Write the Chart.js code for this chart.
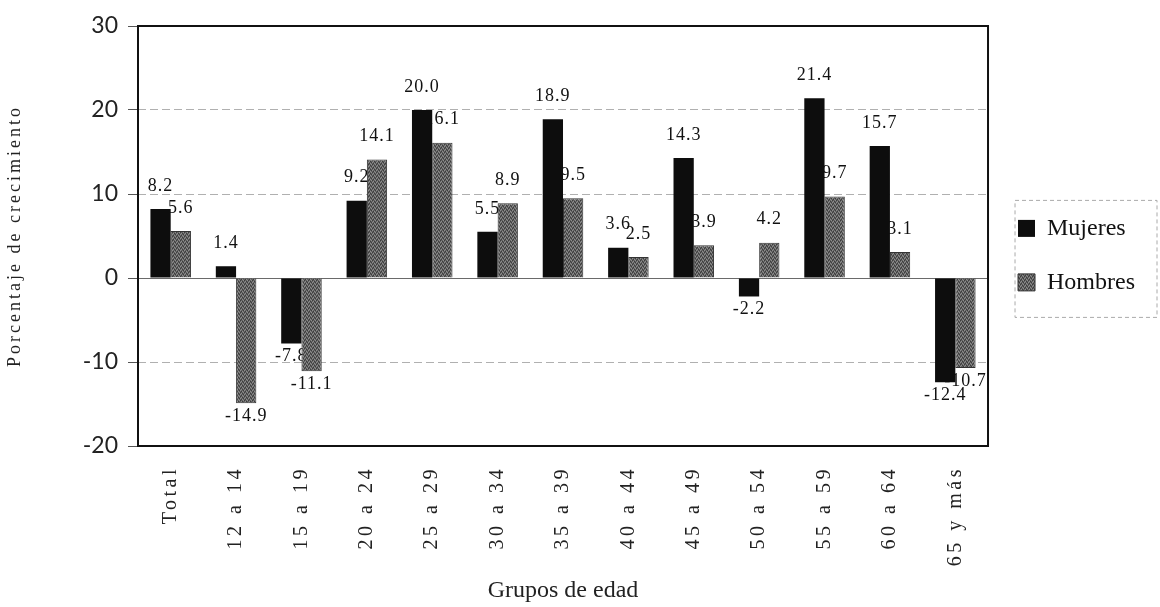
<!DOCTYPE html>
<html lang="es">
<head>
  <meta charset="UTF-8" />
  <title>Porcentaje de crecimiento por grupos de edad</title>
  <script src="https://cdn.jsdelivr.net/npm/chart.js"></script>
  <style>
    html, body {
      margin: 0;
      padding: 0;
      background: #fff;
    }

    #wrap {
      width: 1160px;
      height: 607px;
      position: relative;
    }
  </style>
</head>
<body>

  <div id="wrap"><canvas id="growthChart"></canvas></div>

  <script>
    const groups = [
      'Total', '12 a 14', '15 a 19', '20 a 24', '25 a 29', '30 a 34', '35 a 39',
      '40 a 44', '45 a 49', '50 a 54', '55 a 59', '60 a 64', '65 y más'
    ];

    const mujeres = [8.2, 1.4, -7.8, 9.2, 20.0, 5.5, 18.9, 3.6, 14.3, -2.2, 21.4, 15.7, -12.4];
    const hombres = [5.6, -14.9, -11.1, 14.1, 16.1, 8.9, 9.5, 2.5, 3.9, 4.2, 9.7, 3.1, -10.7];

    const yTicks = [-20, -10, 0, 10, 20, 30];

    // grainy grey fill for the Hombres bars (the scan looks speckled)
    function speckle() {
      const c = document.createElement('canvas');
      c.width = 4;
      c.height = 4;
      const g = c.getContext('2d');
      g.fillStyle = '#626262';
      g.fillRect(0, 0, 4, 4);
      g.fillStyle = '#3c3c3c';
      [[0, 0], [2, 1], [1, 3], [3, 2]].forEach(p => g.fillRect(p[0], p[1], 1, 1));
      g.fillStyle = '#8e8e8e';
      [[1, 1], [3, 0], [0, 2], [2, 3]].forEach(p => g.fillRect(p[0], p[1], 1, 1));
      return g.createPattern(c, 'repeat');
    }

    // letter-spaced text for the category labels and the y title
    function spaceOut(scale, fn, gap) {
      if (scale['_spaced_' + fn]) return;
      const orig = scale[fn];
      scale[fn] = function (...args) {
        this.ctx.save();
        this.ctx.letterSpacing = gap;
        orig.apply(this, args);
        this.ctx.restore();
      };
      scale['_spaced_' + fn] = true;
    }

    const spacedText = {
      id: 'spacedText',
      beforeDraw(chart) {
        spaceOut(chart.scales.x, 'drawLabels', '3.5px');
        spaceOut(chart.scales.y, 'drawTitle', '3px');
      }
    };

    // value labels go under the bars, like in the original
    const valueLabels = {
      id: 'valueLabels',
      beforeDatasetsDraw(chart) {
        const { ctx, chartArea: a } = chart;
        ctx.save();
        ctx.beginPath();
        ctx.rect(a.left, a.top, a.right - a.left, a.bottom - a.top);
        ctx.clip();
        ctx.font = '18px "Liberation Serif"';
        ctx.fillStyle = '#111';
        ctx.textAlign = 'center';
        ctx.letterSpacing = '1px';
        chart.data.datasets.forEach((ds, i) => {
          chart.getDatasetMeta(i).data.forEach((bar, j) => {
            const v = ds.data[j];
            if (v >= 0) {
              ctx.textBaseline = 'bottom';
              ctx.fillText(v.toFixed(1), bar.x, bar.y - 14);
            } else {
              ctx.textBaseline = 'top';
              ctx.fillText(v.toFixed(1), bar.x, bar.y + 4);
            }
          });
        });
        ctx.restore();
      }
    };

    const frames = {
      id: 'frames',
      afterDatasetsDraw(chart) {
        const { ctx, chartArea: a } = chart;
        ctx.save();
        ctx.strokeStyle = '#111';
        ctx.lineWidth = 2;
        ctx.strokeRect(a.left, a.top, a.right - a.left, a.bottom - a.top);
        ctx.restore();
      },
      afterDraw(chart) {
        const boxes = chart.legend.legendHitBoxes;
        if (!boxes || !boxes.length) return;
        const first = boxes[0];
        const last = boxes[boxes.length - 1];
        const ctx = chart.ctx;
        const x0 = first.left - 3;
        const y0 = first.top - 16;
        const y1 = last.top + last.height + 23;
        ctx.save();
        ctx.strokeStyle = '#aaa';
        ctx.lineWidth = 1;
        ctx.setLineDash([4, 3]);
        ctx.strokeRect(x0, y0, chart.width - 3 - x0, y1 - y0);
        ctx.restore();
      }
    };

    const ctx = document.getElementById('growthChart').getContext('2d');
    const chart = new Chart(ctx, {
      type: 'bar',
      data: {
        labels: groups,
        datasets: [
          {
            label: 'Mujeres',
            data: mujeres,
            backgroundColor: '#0d0d0d',
            borderWidth: 0,
            categoryPercentage: 0.62,
            barPercentage: 1.0
          },
          {
            label: 'Hombres',
            data: hombres,
            backgroundColor: speckle(),
            borderColor: '#333',
            borderWidth: 1,
            categoryPercentage: 0.62,
            barPercentage: 1.0
          }
        ]
      },
      options: {
        responsive: true,
        maintainAspectRatio: false,
        animation: false,
        layout: {
          padding: { top: 26, right: 15, bottom: 0, left: 0 }
        },
        plugins: {
          tooltip: { enabled: false },
          legend: {
            position: 'right',
            align: 'start',
            title: {
              display: true,
              text: '',
              font: { size: 12 },
              padding: { top: 146, bottom: 0 }
            },
            labels: {
              color: '#111',
              font: { family: 'Liberation Serif', size: 24 },
              boxWidth: 17,
              boxHeight: 17,
              padding: 30
            }
          }
        },
        scales: {
          x: {
            grid: { display: false, drawTicks: false },
            border: { display: false },
            ticks: {
              autoSkip: false,
              minRotation: 90,
              maxRotation: 90,
              padding: 20,
              color: '#222',
              font: { family: 'Liberation Serif', size: 20 }
            },
            title: {
              display: true,
              text: 'Grupos de edad',
              color: '#222',
              font: { family: 'Liberation Serif', size: 24 },
              padding: { top: 0, bottom: 2 }
            },
            afterFit(s) { s.height = 161; }
          },
          y: {
            min: yTicks[0],
            max: yTicks[yTicks.length - 1],
            afterBuildTicks(s) { s.ticks = yTicks.map(v => ({ value: v })); },
            grid: {
              color: c => (c.tick && c.tick.value === 0 ? '#6a6a6a' : '#b0b0b0'),
              lineWidth: 1,
              tickLength: 10,
              tickColor: '#555',
              tickBorderDash: []
            },
            border: {
              display: false,
              dash: c => (c.tick && c.tick.value === 0 ? [] : [8, 4])
            },
            ticks: {
              padding: 10,
              color: '#222',
              font: { family: 'Lato', size: 23 }
            },
            title: {
              display: true,
              text: 'Porcentaje de crecimiento',
              color: '#222',
              font: { family: 'Liberation Serif', size: 18 },
              padding: { top: 4, bottom: 0 }
            },
            afterFit(s) { s.width = 138; }
          }
        }
      },
      plugins: [spacedText, valueLabels, frames]
    });
  </script>

</body>
</html>
